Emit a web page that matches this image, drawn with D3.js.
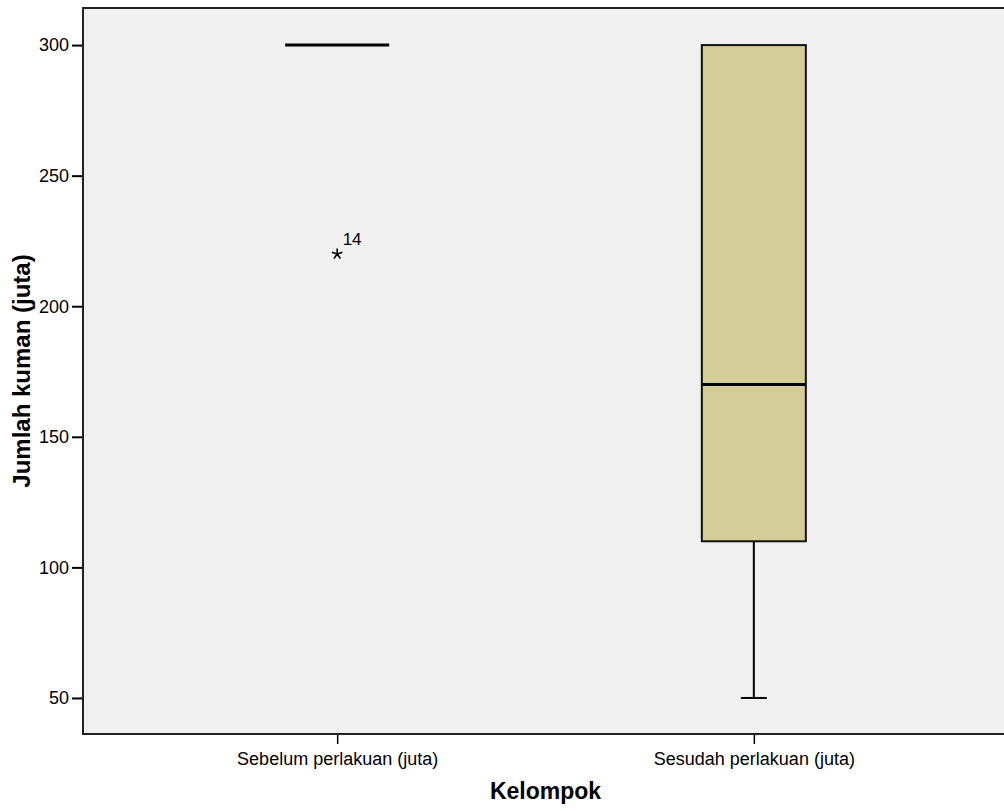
<!DOCTYPE html>
<html>
<head>
<meta charset="utf-8">
<script src="https://cdn.jsdelivr.net/npm/d3@7"></script>
<style>
  html, body { margin: 0; padding: 0; background: #fff; }
  svg { display: block; font-family: "Liberation Sans", Arial, sans-serif; }
</style>
</head>
<body>
<svg id="chart" width="1004" height="811"></svg>
<script>
// Box plot summaries per group
const categories = ["Sebelum perlakuan (juta)", "Sesudah perlakuan (juta)"];
const whiskerLow  = [300, 50];
const q1          = [300, 110];
const median      = [300, 170];
const q3          = [300, 300];
const whiskerHigh = [300, 300];
// Extreme values: group index, value, case label
const extremeGroup = [0];
const extremeValue = [220];
const extremeLabel = ["14"];
const yTicks = [50, 100, 150, 200, 250, 300];

const yTitle = "Jumlah kuman (juta)";
const xTitle = "Kelompok";

const svg = d3.select("#chart");
const plot = { left: 83, top: 8, right: 1008, bottom: 734 };

const x = d3.scalePoint().domain(categories).range([plot.left, plot.right]).padding(0.61);
const y = d3.scaleLinear().domain([36.2, 314.2]).range([plot.bottom, plot.top]);

const boxWidth = 104;
const capWidth = 26;

// plot background
svg.append("rect")
  .attr("x", plot.left).attr("y", plot.top)
  .attr("width", plot.right - plot.left).attr("height", plot.bottom - plot.top)
  .attr("fill", "#f0f0f0");

// boxes
const groups = categories.map((c, i) => ({
  cat: c, lo: whiskerLow[i], q1: q1[i], med: median[i], q3: q3[i], hi: whiskerHigh[i]
}));

const g = svg.append("g");
groups.forEach(d => {
  const cx = x(d.cat);
  // lower whisker
  if (d.lo < d.q1) {
    g.append("line").attr("x1", cx).attr("x2", cx)
      .attr("y1", y(d.q1)).attr("y2", y(d.lo))
      .attr("stroke", "#000").attr("stroke-width", 2);
    g.append("line").attr("x1", cx - capWidth / 2).attr("x2", cx + capWidth / 2)
      .attr("y1", y(d.lo)).attr("y2", y(d.lo))
      .attr("stroke", "#000").attr("stroke-width", 2);
  }
  // upper whisker
  if (d.hi > d.q3) {
    g.append("line").attr("x1", cx).attr("x2", cx)
      .attr("y1", y(d.q3)).attr("y2", y(d.hi))
      .attr("stroke", "#000").attr("stroke-width", 2);
    g.append("line").attr("x1", cx - capWidth / 2).attr("x2", cx + capWidth / 2)
      .attr("y1", y(d.hi)).attr("y2", y(d.hi))
      .attr("stroke", "#000").attr("stroke-width", 2);
  }
  // interquartile box
  if (d.q3 > d.q1) {
    g.append("rect")
      .attr("x", cx - boxWidth / 2).attr("y", y(d.q3))
      .attr("width", boxWidth).attr("height", y(d.q1) - y(d.q3))
      .attr("fill", "#d3ce98").attr("stroke", "#111").attr("stroke-width", 2);
  }
  // median
  g.append("line")
    .attr("x1", cx - boxWidth / 2).attr("x2", cx + boxWidth / 2)
    .attr("y1", y(d.med)).attr("y2", y(d.med))
    .attr("stroke", "#000").attr("stroke-width", 3);
});

// five-armed asterisk marker for extreme values
const asterisk = {
  draw(context, size) {
    const r = Math.sqrt(size) / 2;
    for (let k = 0; k < 5; k++) {
      const a = -Math.PI / 2 + k * 2 * Math.PI / 5;
      context.moveTo(0, 0);
      context.lineTo(r * Math.cos(a), r * Math.sin(a));
    }
  }
};
extremeGroup.forEach((gi, i) => {
  const cx = x(categories[gi]);
  const cy = y(extremeValue[i]);
  svg.append("path")
    .attr("transform", `translate(${cx},${cy})`)
    .attr("d", d3.symbol().type(asterisk).size(121)())
    .attr("fill", "none").attr("stroke", "#000").attr("stroke-width", 1.6);
  svg.append("text")
    .attr("x", cx + 5.5).attr("y", cy - 9)
    .attr("font-size", 17).attr("fill", "#000")
    .text(extremeLabel[i]);
});

// y axis
const yAxis = d3.axisLeft(y).tickValues(yTicks).tickSize(11).tickPadding(3).tickFormat(d3.format("d"));
const ya = svg.append("g").attr("transform", `translate(${plot.left},0)`).call(yAxis);
ya.select(".domain").remove();
ya.selectAll(".tick line").attr("stroke", "#000").attr("stroke-width", 2);
ya.selectAll(".tick text").attr("font-size", 18).attr("fill", "#000")
  .attr("font-family", "'Liberation Sans', Arial, sans-serif");

// x axis
const xAxis = d3.axisBottom(x).tickSize(10).tickPadding(8);
const xa = svg.append("g").attr("transform", `translate(0,${plot.bottom})`).call(xAxis);
xa.select(".domain").remove();
xa.selectAll(".tick line").attr("stroke", "#000").attr("stroke-width", 1.5);
xa.selectAll(".tick text").attr("font-size", 18).attr("fill", "#000")
  .attr("font-family", "'Liberation Sans', Arial, sans-serif");

// frame
svg.append("path")
  .attr("d", `M${plot.right},${plot.top}H${plot.left}V${plot.bottom}H${plot.right}`)
  .attr("fill", "none").attr("stroke", "#222").attr("stroke-width", 2);

// titles
svg.append("text")
  .attr("transform", `translate(30,${(plot.top + plot.bottom) / 2}) rotate(-90)`)
  .attr("text-anchor", "middle")
  .attr("font-size", 24).attr("font-weight", "bold").attr("fill", "#000")
  .text(yTitle);

svg.append("text")
  .attr("x", (plot.left + plot.right) / 2).attr("y", 799)
  .attr("text-anchor", "middle")
  .attr("font-size", 23).attr("font-weight", "bold").attr("fill", "#000")
  .text(xTitle);
</script>
</body>
</html>
